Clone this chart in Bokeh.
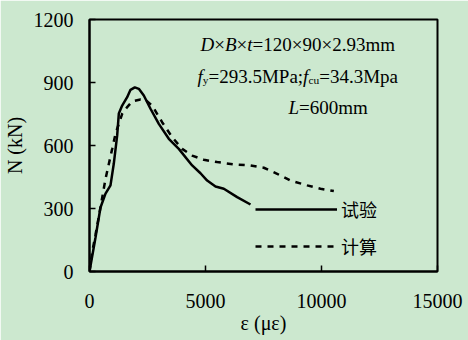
from bokeh.plotting import figure
from bokeh.models import Label, Legend, LegendItem, FixedTicker
from bokeh.embed import file_html
from bokeh.resources import INLINE

# ---- data ----
strain_test = [0, 259, 474, 690, 905, 1048, 1193, 1264, 1408, 1624, 1767, 1954, 2126,
               2341, 2629, 2988, 3418, 3849, 4425, 4784, 5072, 5431, 5790, 6365, 6940]
load_test = [0, 162, 305, 371, 410, 514, 648, 752, 790, 830, 865, 877, 870,
             838, 775, 703, 632, 584, 505, 468, 433, 405, 394, 354, 319]

strain_calc = [0, 114, 259, 474, 690, 978, 1121, 1408, 1624, 1839, 2198, 2414, 2701,
               3130, 3561, 3993, 4425, 4927, 5503, 6221, 6940, 7514, 8089, 8664, 9382,
               9957, 10532]
load_calc = [0, 92, 175, 306, 441, 584, 656, 751, 783, 810, 819, 817, 790,
             711, 640, 584, 552, 532, 521, 510, 505, 494, 465, 433, 410, 394, 383]

x_ticks = [0, 5000, 10000, 15000]
y_ticks = [0, 300, 600, 900, 1200]
series_labels = ["试验", "计算"]
x_title = "ε (με)"
y_title = "N (kN)"

BG = "#cce8cf"
SERIF = "Liberation Serif"

W, H = 468, 340
L_B, R_B, T_B, B_B = 89, 31, 19, 69
p = figure(width=W, height=H, x_range=(0, 15000), y_range=(0, 1200),
           output_backend="svg", toolbar_location=None,
           min_border_left=L_B, min_border_right=R_B,
           min_border_top=T_B, min_border_bottom=B_B)
p.background_fill_color = BG
p.border_fill_color = BG
p.outline_line_color = "black"
p.outline_line_width = 2
p.grid.visible = False

for ax in (p.xaxis[0], p.yaxis[0]):
    ax.axis_line_width = 2
    ax.major_tick_in = 6
    ax.major_tick_out = 0
    ax.major_tick_line_width = 1.5
    ax.minor_tick_line_color = None
    ax.major_label_text_font = SERIF
    ax.major_label_text_font_size = "20px"
    ax.major_label_text_color = "black"
    ax.axis_label_text_font = SERIF
    ax.axis_label_text_font_size = "20px"
    ax.axis_label_text_font_style = "normal"
    ax.axis_label_text_color = "black"
p.xaxis[0].ticker = FixedTicker(ticks=x_ticks)
p.yaxis[0].ticker = FixedTicker(ticks=y_ticks)
p.xaxis[0].major_label_standoff = 22
p.yaxis[0].major_label_standoff = 16
p.xaxis[0].axis_label = x_title
p.yaxis[0].axis_label = y_title
p.xaxis[0].axis_label_standoff = 1
p.yaxis[0].axis_label_standoff = 5

r_test = p.line(strain_test, load_test, line_color="black", line_width=2.5)
r_calc = p.line(strain_calc, load_calc, line_color="black", line_width=2.5, line_dash="6 6")

legend = Legend(items=[LegendItem(label=series_labels[0], renderers=[r_test]),
                       LegendItem(label=series_labels[1], renderers=[r_calc])],
                location=(166, 12), glyph_width=82, glyph_height=20, label_height=20,
                spacing=11, padding=0, margin=0, label_standoff=4,
                background_fill_alpha=0, border_line_alpha=0,
                label_text_font="Noto Sans CJK SC", label_text_font_size="18px",
                label_text_color="black")
p.add_layout(legend)

# ---- text helpers (pixel layout -> data coords) ----
fw = W - L_B - R_B
fh = H - T_B - B_B
def dx(px):
    return (px - L_B) / fw * 15000
def dy(py):
    return (H - B_B - py) / fh * 1200

NORMAL = {"×": .564, "=": .564, ".": .25, "m": .778, "M": .889, "P": .556, "a": .444,
          ";": .278, "p": .5, "c": .444, "u": .5, "y": .5}
ITALIC = {"D": .722, "B": .611, "t": .278, "f": .278, "L": .556}
def tw(s, size, italic=False):
    tab = ITALIC if italic else NORMAL
    return sum(tab.get(ch, .5) for ch in s) * size

def run(pieces, x0, base, size):
    x = x0
    for text, style, sub in pieces:
        fs = size * 0.6 if sub else size
        yb = base + (3 if sub else 0)
        p.add_layout(Label(x=dx(x), y=dy(yb), text=text, text_font=SERIF,
                           text_font_size=f"{fs:.1f}px",
                           text_font_style="italic" if style == "i" else "normal",
                           text_baseline="alphabetic", text_align="left",
                           text_color="black"))
        x += tw(text, fs, style == "i")

FS = 19
run([("D", "i", False), ("×", "n", False), ("B", "i", False), ("×", "n", False),
     ("t", "i", False), ("=120×90×2.93mm", "n", False)], 200, 44, FS)
run([("f", "i", False), ("y", "n", True), ("=293.5MPa;", "n", False),
     ("f", "i", False), ("cu", "n", True), ("=34.3Mpa", "n", False)], 197, 76, FS)
run([("L", "i", False), ("=600mm", "n", False)], 288, 107, FS)

open("out.html", "w").write(file_html(p, INLINE))
